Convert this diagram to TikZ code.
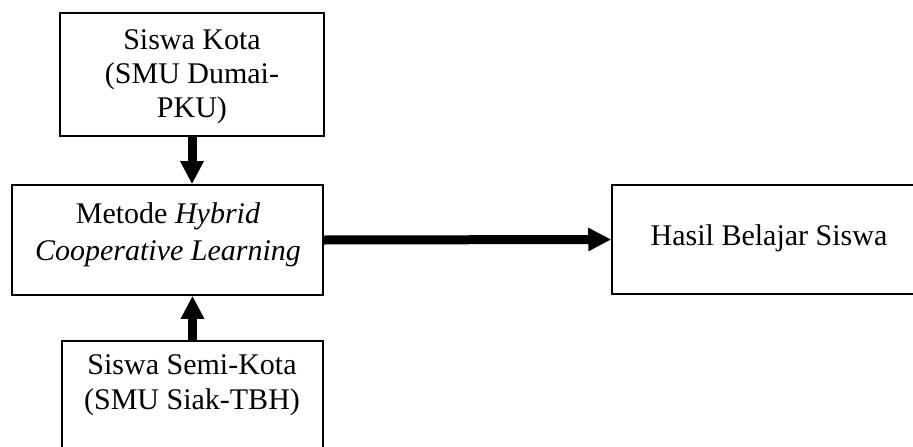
\documentclass[tikz,border=0pt]{standalone}
\usepackage{fontspec}
\setmainfont{Liberation Serif}
\usetikzlibrary{arrows.meta}

\tikzset{
  box/.style={draw=black, fill=white, inner sep=0pt},
  label text/.style={inner sep=0pt, align=center, text=black},
  flow/.style={line width=9pt, -{Triangle[width=22pt,length=23pt]}},
}

\begin{document}
\begin{tikzpicture}[x=1pt, y=-1pt]
  \useasboundingbox (0,0) rectangle (913,447);
  \clip (0,0) rectangle (913,447);

  % boxes
  \node[box, line width=2pt, minimum width=264pt, minimum height=123pt] (kota) at (192,74.5) {};
  \node[box, line width=1.6pt, minimum width=311pt, minimum height=110pt] (metode) at (167.5,240) {};
  \node[box, line width=1.5pt, minimum width=318pt, minimum height=109pt] (hasil) at (771,239.5) {};
  \node[box, line width=2pt, minimum width=261pt, minimum height=129pt] (semi) at (192.5,405.5) {};

  % texts
  \node[label text, anchor=north, font=\fontsize{30}{34}\selectfont] (kotatext) at (192,29.5)
    {Siswa Kota\\(SMU Dumai-\\PKU)};
  \node[label text, anchor=north, font=\fontsize{30}{37}\selectfont] (metodetext) at (168,202.5)
    {Metode \textit{Hybrid}\\\textit{Cooperative Learning}};
  \node[label text, anchor=base, font=\fontsize{30}{34}\selectfont] (hasiltext) at (769,245)
    {Hasil Belajar Siswa};
  \node[label text, anchor=north, font=\fontsize{30}{35}\selectfont] (semitext) at (192,354.5)
    {Siswa Semi-Kota\\(SMU Siak-TBH)};

  % connectors
  \draw[flow] (kota.south) -- (kota.south |- metode.north);
  \draw[flow] (semi.north) -- (semi.north |- metode.south);
  \draw[flow] (metode.east) -- (hasil.west);
\end{tikzpicture}
\end{document}
